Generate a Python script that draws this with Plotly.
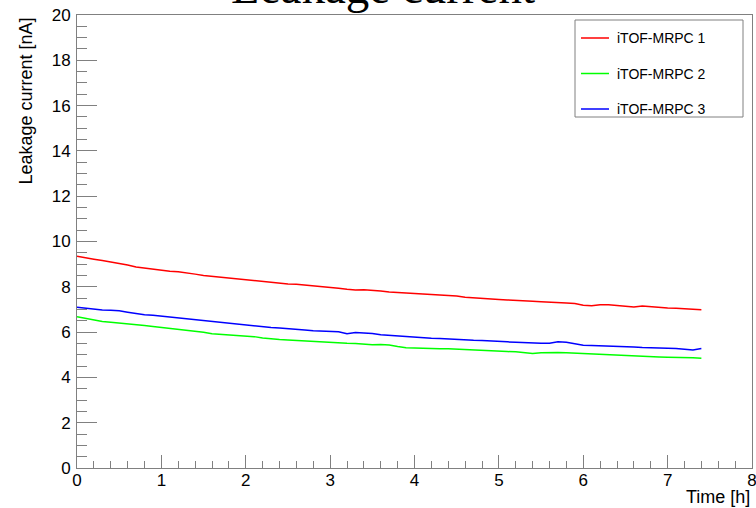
import plotly.graph_objects as go

# ---- data ----
time_h = [round(0.1 * i, 1) for i in range(75)]  # 0.0 ... 7.4 h

mrpc1 = [9.35, 9.30, 9.22, 9.16, 9.10, 9.02, 8.96, 8.87, 8.82, 8.76,
         8.72, 8.69, 8.66, 8.62, 8.56, 8.50, 8.46, 8.45, 8.40, 8.34,
         8.30, 8.28, 8.23, 8.19, 8.15, 8.12, 8.11, 8.08, 8.03, 8.00,
         7.97, 7.94, 7.89, 7.86, 7.87, 7.85, 7.81, 7.77, 7.74, 7.71,
         7.69, 7.68, 7.66, 7.64, 7.61, 7.59, 7.54, 7.51, 7.47, 7.46,
         7.44, 7.42, 7.39, 7.38, 7.36, 7.34, 7.33, 7.33, 7.29, 7.26,
         7.19, 7.16, 7.21, 7.21, 7.18, 7.14, 7.11, 7.15, 7.11, 7.09,
         7.06, 7.05, 7.03, 7.01, 6.99]

mrpc2 = [6.68, 6.60, 6.53, 6.47, 6.44, 6.41, 6.38, 6.33, 6.29, 6.25,
         6.21, 6.17, 6.13, 6.08, 6.04, 5.99, 5.93, 5.91, 5.89, 5.86,
         5.83, 5.80, 5.74, 5.69, 5.67, 5.65, 5.63, 5.60, 5.56, 5.54,
         5.52, 5.52, 5.51, 5.50, 5.46, 5.44, 5.45, 5.43, 5.36, 5.31,
         5.30, 5.28, 5.26, 5.26, 5.26, 5.24, 5.21, 5.20, 5.18, 5.16,
         5.14, 5.14, 5.13, 5.09, 5.06, 5.09, 5.11, 5.10, 5.09, 5.07,
         5.05, 5.03, 5.02, 5.00, 4.97, 4.95, 4.93, 4.92, 4.92, 4.90,
         4.89, 4.89, 4.89, 4.87, 4.84]

mrpc3 = [7.10, 7.05, 7.01, 6.98, 6.96, 6.94, 6.88, 6.81, 6.77, 6.74,
         6.70, 6.66, 6.63, 6.59, 6.55, 6.51, 6.48, 6.44, 6.40, 6.35,
         6.32, 6.29, 6.24, 6.20, 6.18, 6.16, 6.12, 6.09, 6.06, 6.04,
         6.04, 6.02, 5.93, 5.98, 5.96, 5.94, 5.88, 5.85, 5.82, 5.79,
         5.77, 5.76, 5.73, 5.72, 5.70, 5.67, 5.63, 5.64, 5.63, 5.60,
         5.58, 5.57, 5.55, 5.53, 5.51, 5.51, 5.51, 5.57, 5.55, 5.50,
         5.42, 5.41, 5.40, 5.40, 5.37, 5.35, 5.34, 5.32, 5.30, 5.30,
         5.29, 5.28, 5.26, 5.21, 5.28]

series_names = ["iTOF-MRPC 1", "iTOF-MRPC 2", "iTOF-MRPC 3"]
series_values = [mrpc1, mrpc2, mrpc3]
series_colors = ["#ff0000", "#00ff00", "#0000ff"]

title_text = "Leakage current"
x_title = "Time [h]"
y_title = "Leakage current [nA]"

# ---- layout geometry (pixels) ----
W, H = 756, 508
L, R, T, B = 77, 4, 15, 40
PW, PH = W - L - R, H - T - B


def px(xp):
    return (xp - L) / PW


def py(yp):
    return 1 - (yp - T) / PH


SANS = "Liberation Sans, Arial, Helvetica, sans-serif"
SERIF = "Liberation Serif, Times New Roman, serif"
AXC = "#808080"

fig = go.Figure()
for name, vals, col in zip(series_names, series_values, series_colors):
    fig.add_trace(go.Scatter(x=time_h, y=vals, mode="lines", name=name,
                             line=dict(color=col, width=1.5),
                             showlegend=False))

fig.update_layout(
    width=W, height=H,
    margin=dict(l=L, r=R, t=T, b=B, autoexpand=False),
    paper_bgcolor="white", plot_bgcolor="white",
    font=dict(family=SANS, color="black", size=17),
)

fig.update_xaxes(range=[0, 8], dtick=1, tick0=0, showgrid=False, zeroline=False,
                 showline=True, linecolor=AXC, linewidth=1, mirror=True,
                 ticks="inside", ticklen=13, tickcolor=AXC, tickwidth=1,
                 minor=dict(ticks="inside", ticklen=7, dtick=0.2, tick0=0,
                            tickcolor=AXC, showgrid=False),
                 tickfont=dict(size=17), ticklabelstandoff=-3,
                 ticklabeloverflow="allow", automargin=False)
fig.update_yaxes(range=[0, 20], dtick=2, tick0=0, showgrid=False, zeroline=False,
                 showline=True, linecolor=AXC, linewidth=1, mirror=True,
                 ticks="inside", ticklen=20, tickcolor=AXC, tickwidth=1,
                 minor=dict(ticks="inside", ticklen=10, dtick=0.5, tick0=0,
                            tickcolor=AXC, showgrid=False),
                 tickfont=dict(size=17), ticklabelstandoff=2,
                 ticklabeloverflow="allow", automargin=False)

annotations = [
    dict(text=title_text, xref="paper", yref="paper", x=px(383), y=py(15),
         xanchor="center", yanchor="bottom", showarrow=False,
         font=dict(family=SERIF, size=47, color="black")),
    dict(text=y_title, xref="paper", yref="paper", x=px(25), y=1,
         xanchor="center", yanchor="top", textangle=-90, showarrow=False,
         font=dict(family=SANS, size=18, color="black")),
    dict(text=x_title, xref="paper", yref="paper", x=1, y=py(497),
         xanchor="right", yanchor="middle", showarrow=False,
         font=dict(family=SANS, size=18, color="black")),
]

# legend box drawn like the ROOT TLegend
shapes = [dict(type="rect", xref="paper", yref="paper",
               x0=px(575), x1=px(743), y0=py(117), y1=py(20),
               line=dict(color=AXC, width=1), fillcolor="white", layer="above")]
for i, (name, col) in enumerate(zip(series_names, series_colors)):
    yy = [38, 73.5, 109][i]
    shapes.append(dict(type="line", xref="paper", yref="paper",
                       x0=px(581), x1=px(609), y0=py(yy), y1=py(yy),
                       line=dict(color=col, width=1.5), layer="above"))
    annotations.append(dict(text=name, xref="paper", yref="paper",
                            x=px(615), y=py(yy), xanchor="left", yanchor="middle",
                            showarrow=False,
                            font=dict(family=SANS, size=14, color="black")))

fig.update_layout(annotations=annotations, shapes=shapes)
fig.write_html("out.html")
